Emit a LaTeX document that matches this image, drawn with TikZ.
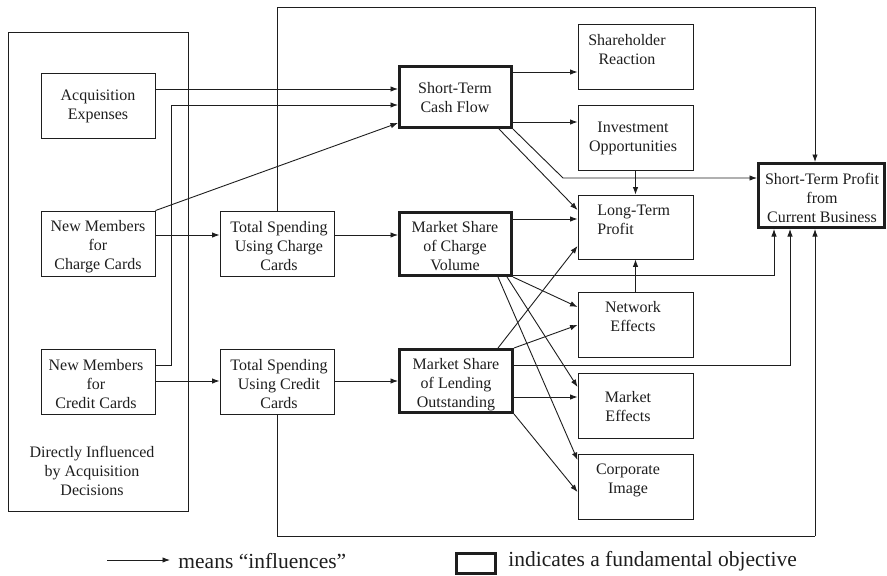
\documentclass[tikz,border=0pt]{standalone}
\usepackage{fontspec}
\setmainfont{Liberation Serif}
\newfontfamily\tnr{Liberation Serif}
\usetikzlibrary{arrows.meta}
\definecolor{ink}{HTML}{1E1E1E}
\begin{document}
\begin{tikzpicture}[x=1pt,y=-1pt,
  line width=0.9pt, draw=ink,
  thinbox/.style={draw=ink, line width=0.9pt, inner sep=0, minimum width=114pt, minimum height=65pt},
  thickbox/.style={draw=ink, line width=3pt, inner sep=0, minimum width=112pt, minimum height=61pt},
  txt/.style={align=center, inner sep=0, text=ink, font=\tnr\fontsize{16}{19}\selectfont},
  legtxt/.style={anchor=west, inner sep=0, text=ink, font=\tnr\fontsize{21.5}{24}\selectfont},
  arr/.style={draw=ink, line width=0.9pt, -{Latex[length=7.5pt,width=5.5pt]}},
  plain/.style={draw=ink, line width=0.9pt}]
\useasboundingbox (0,0) rectangle (887,576);

% left container
\node[draw=ink, line width=0.9pt, inner sep=0, minimum width=180pt, minimum height=479pt] (left) at (98,271.5) {};
\node[txt] (lefttxt) at (92,470.5) {Directly Influenced\\by Acquisition\\Decisions};

% boxes
\node[thinbox] (ae) at (98,105.5) {};
\node[thinbox] (nmch) at (98,243.5) {};
\node[thinbox] (nmcr) at (98,381.5) {};
\node[thinbox] (tsch) at (277,243.5) {};
\node[thinbox] (tscr) at (277,381.5) {};
\node[thickbox] (stcf) at (455.5,97) {};
\node[thickbox, minimum height=63pt] (mscv) at (455.5,244) {};
\node[thickbox, minimum height=63pt, minimum width=113pt] (mslo) at (456,381) {};
\node[thinbox, minimum width=115pt] (sr) at (635.5,56.5) {};
\node[thinbox, minimum width=115pt] (io) at (635.5,137.5) {};
\node[thinbox, minimum width=115pt, minimum height=64pt] (ltp) at (635.5,227) {};
\node[thinbox, minimum width=115pt] (ne) at (635.5,324.5) {};
\node[thinbox, minimum width=115pt] (me) at (635.5,405.5) {};
\node[thinbox, minimum width=115pt] (ci) at (635.5,486.5) {};
\node[thickbox, minimum width=126pt, minimum height=64pt] (stp) at (821.5,195.5) {};

% texts
\node[txt] (aet) at (98,106) {Acquisition\\Expenses};
\node[txt] (nmcht) at (98,246.5) {New Members\\for\\Charge Cards};
\node[txt] (tscht) at (279,246.5) {Total Spending\\Using Charge\\Cards};
\node[txt] (nmcrt) at (96,384.5) {New Members\\for\\Credit Cards};
\node[txt] (tscrt) at (279,384.5) {Total Spending\\Using Credit\\Cards};
\node[txt] (stcft) at (455,97.5) {Short-Term\\Cash Flow};
\node[txt] (mscvt) at (455,246) {Market Share\\of Charge\\Volume};
\node[txt] (mslot) at (456,384.5) {Market Share\\of Lending\\Outstanding};
\node[txt] (srt) at (627,49.5) {Shareholder\\Reaction};
\node[txt] (iot) at (633,138.5) {Investment\\Opportunities};
\node[txt, align=left, anchor=west] (ltpt) at (597,219.5) {Long-Term\\Profit};
\node[txt] (net) at (633,317) {Network\\Effects};
\node[txt] (met) at (628,407) {Market\\Effects};
\node[txt] (cit) at (628,480) {Corporate\\Image};
\node[txt] (stpt) at (822,197.5) {Short-Term Profit\\from\\Current Business};

% outer box
\coordinate (tl) at (277,7);
\coordinate (tr) at (815,7);
\coordinate (bl) at (277,536);
\coordinate (br) at (815,536);
\draw[plain] (tsch.north) -- (tl) -- (tr);
\draw[arr] (tr) -- (tr |- stp.north);
\draw[plain] (tscr.south) -- (bl) -- (br);
\draw[arr] (br) -- (br |- stp.south);

% connectors
\draw[arr] (ae.east |- 0,89) -- (stcf.west |- 0,89);
\draw[arr] (nmcr.east |- 0,365) -| (171,105) -- (stcf.west |- 0,105);
\draw[arr] (nmch.north east) -- (stcf.west |- 0,123);
\draw[arr] (nmch.east |- 0,235) -- (tsch.west |- 0,235);
\draw[arr] (tsch.east |- 0,235) -- (mscv.west |- 0,235);
\draw[arr] (nmcr.east |- 0,381) -- (tscr.west |- 0,381);
\draw[arr] (tscr.east |- 0,381) -- (mslo.west |- 0,381);
\draw[arr] (stcf.east |- 0,72) -- (sr.west |- 0,72);
\draw[arr] (stcf.east |- 0,122) -- (io.west |- 0,122);
\draw[arr] (499,0 |- stcf.south) -- (ltp.west |- 0,210);
\draw[arr] (stcf.south east) -- (563,178) -- (stp.west |- 0,178);
\draw[arr] (io.south) -- (ltp.north);
\draw[arr] (mscv.east |- 0,219) -- (ltp.west |- 0,219);
\draw[arr] (498,0 |- mslo.north) -- (ltp.west |- 0,246);
\draw[arr] (mscv.east |- 0,275.5) -| (774,0 |- stp.south);
\draw[arr] (mscv.south east) -- (ne.west |- 0,307);
\draw[arr] (507,0 |- mscv.south) -- (me.west |- 0,387);
\draw[arr] (498,0 |- mscv.south) -- (ci.west |- 0,460);
\draw[arr] (mslo.north east) -- (ne.west |- 0,325);
\draw[arr] (mslo.east |- 0,365) -| (790,0 |- stp.south);
\draw[arr] (mslo.east |- 0,397) -- (me.west |- 0,397);
\draw[arr] (mslo.south east) -- (ci.west |- 0,492);
\draw[arr] (ne.north) -- (ltp.south);

% legend
\coordinate (la) at (107,560);
\coordinate (lb) at (170,560);
\draw[arr] (la) -- (lb);
\node[legtxt] (l1) at (178,561) {means “influences”};
\node[draw=ink, line width=3pt, inner sep=0, minimum width=39pt, minimum height=20pt] (lbox) at (476,563.5) {};
\node[legtxt] (l2) at (508,561) {indicates a fundamental objective};
\end{tikzpicture}
\end{document}
